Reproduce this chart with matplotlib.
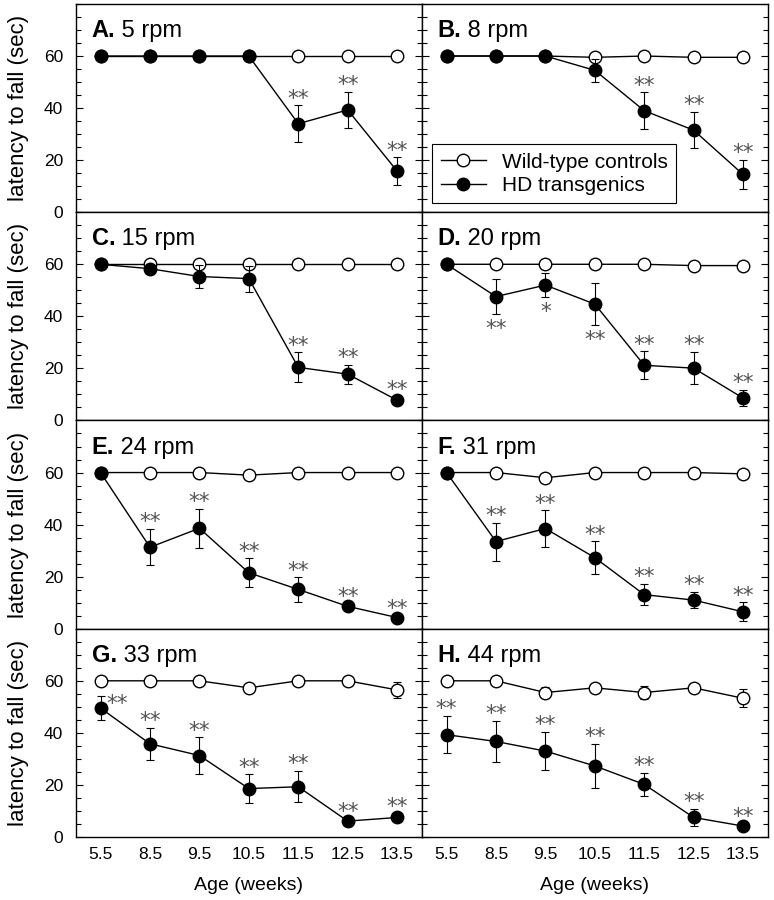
import matplotlib
matplotlib.use('Agg')
import matplotlib.pyplot as plt
from matplotlib.ticker import FixedLocator, MultipleLocator
import numpy as np

plt.rcParams['font.family'] = ['Liberation Sans', 'DejaVu Sans']

# Age groups (categorical x axis)
ages = ['5.5', '8.5', '9.5', '10.5', '11.5', '12.5', '13.5']

# Panel letters and rotarod speeds
letters = ['A.', 'B.', 'C.', 'D.', 'E.', 'F.', 'G.', 'H.']
speeds = ['5 rpm', '8 rpm', '15 rpm', '20 rpm', '24 rpm', '31 rpm', '33 rpm', '44 rpm']

# Wild-type controls: mean latency (sec) and SEM, one list per panel
wt_mean = [
    [60, 60, 60, 60, 60, 60, 60],
    [60, 60, 60, 59.5, 60, 59.5, 59.5],
    [60, 60, 60, 60, 60, 60, 60],
    [60, 60, 60, 60, 60, 59.5, 59.5],
    [60, 60, 60, 59, 60, 60, 60],
    [60, 60, 58, 60, 60, 60, 59.5],
    [60, 60, 60, 57.3, 60, 60, 56.5],
    [60, 60, 55.5, 57.3, 55.5, 57.3, 53.3],
]
wt_err = [
    [0, 0, 0, 0, 0, 0, 0],
    [0, 0, 0, 1.5, 0, 0, 0],
    [0, 0, 0, 0, 0, 0, 0],
    [0, 0, 0, 0, 0, 0, 0],
    [0, 0, 0, 0, 0, 0, 0],
    [0, 0, 1, 0, 0, 0, 0],
    [0, 0, 0, 1, 0, 0, 3],
    [0, 0, 2, 0, 2.5, 0, 3.5],
]

# HD transgenics: mean latency (sec) and SEM
hd_mean = [
    [60, 60, 60, 60, 34, 39.3, 15.8],
    [60, 60, 60, 54.5, 39, 31.5, 14.5],
    [60, 58.3, 55.3, 54.5, 20.4, 17.8, 7.8],
    [60, 47.6, 52, 44.7, 21.2, 20.1, 8.6],
    [60, 31.3, 38.6, 21.5, 15.1, 8.6, 4.3],
    [60, 33.5, 38.5, 27.3, 13.1, 11, 6.5],
    [49.5, 35.8, 31.3, 18.6, 19.3, 6.1, 7.5],
    [39.3, 36.7, 33, 27.3, 20.2, 7.5, 4.2],
]
hd_err = [
    [0, 0, 0, 0, 7, 7, 5.3],
    [0, 0, 0, 4.5, 7, 7, 5.5],
    [0, 0.5, 4.6, 5, 5.8, 3.6, 1.2],
    [0, 6.6, 4.6, 8, 5.4, 6.2, 3.2],
    [0, 7, 7.4, 5.5, 4.7, 1, 0.8],
    [0, 7.3, 7, 6.3, 4.1, 3.2, 3.6],
    [4.6, 6.2, 7, 5.5, 6, 1, 1.5],
    [7.2, 7.9, 7.4, 8.4, 4.5, 3.2, 0.8],
]

# significance marks for HD vs wild-type
stars = [
    ['', '', '', '', '**', '**', '**'],
    ['', '', '', '', '**', '**', '**'],
    ['', '', '', '', '**', '**', '**'],
    ['', '**', '*', '**', '**', '**', '**'],
    ['', '**', '**', '**', '**', '**', '**'],
    ['', '**', '**', '**', '**', '**', '**'],
    ['**', '**', '**', '**', '**', '**', '**'],
    ['**', '**', '**', '**', '**', '**', '**'],
]

# where a star sits if not above the error bar
star_place = {(3, 1): 'below', (3, 2): 'below', (3, 3): 'below', (6, 0): 'right'}
star_offsets = {'above': (0, 0.5), 'below': (0, -15), 'right': (12, -10)}

x = np.arange(len(ages))

fig, axes = plt.subplots(4, 2, figsize=(7.74, 9), dpi=100, sharex=True, sharey=True)
fig.subplots_adjust(left=0.098, right=0.992, top=0.9956, bottom=0.07,
                    wspace=0, hspace=0)

for i, ax in enumerate(axes.flat):
    wm = np.array(wt_mean[i], dtype=float)
    we = np.array(wt_err[i], dtype=float)
    hm = np.array(hd_mean[i], dtype=float)
    he = np.array(hd_err[i], dtype=float)

    # error bars first so the markers sit on top
    ax.errorbar(x[we > 0], wm[we > 0], yerr=we[we > 0], fmt='none',
                ecolor='black', elinewidth=0.8, capsize=3, capthick=0.8, zorder=2)
    wt_line, = ax.plot(x, wm, '-o', color='black', lw=1, mfc='white', mec='black',
                       mew=1, ms=9, zorder=3, label='Wild-type controls')
    ax.errorbar(x[he > 0], hm[he > 0], yerr=he[he > 0], fmt='none',
                ecolor='black', elinewidth=0.8, capsize=3, capthick=0.8, zorder=4)
    hd_line, = ax.plot(x, hm, '-o', color='black', lw=1, mfc='black', mec='black',
                       ms=9, zorder=5, label='HD transgenics')

    for j, s in enumerate(stars[i]):
        if not s:
            continue
        place = star_place.get((i, j), 'above')
        y = hm[j] - he[j] if place == 'below' else hm[j] + he[j]
        ax.annotate(s, xy=(x[j], y), xytext=star_offsets[place],
                    textcoords='offset points', ha='center', va='baseline',
                    fontsize=15.5, color='#555555', family='DejaVu Sans')

    # panel title: bold letter + speed
    t = ax.text(0.046, 0.841, letters[i], transform=ax.transAxes, fontsize=17,
                fontweight='bold', va='baseline')
    ax.annotate(' ' + speeds[i], xy=(1, 0), xycoords=t, va='bottom', fontsize=17)

    ax.set_xlim(-0.5, 6.5)
    ax.set_ylim(0, 80)
    ax.set_xticks(x)
    ax.set_xticklabels(ages)
    ax.yaxis.set_major_locator(FixedLocator([0, 20, 40, 60]))
    ax.yaxis.set_minor_locator(MultipleLocator(5))
    ax.tick_params(axis='y', which='both', direction='in', left=True, right=True,
                   labelsize=12.5, pad=9)
    ax.tick_params(axis='y', which='major', length=5, width=0.8)
    ax.tick_params(axis='y', which='minor', length=3.5, width=0.8)
    ax.tick_params(axis='x', length=0, pad=7, labelsize=12.5)
    for sp in ax.spines.values():
        sp.set_linewidth(1)

    if i % 2 == 0:
        ax.set_ylabel('latency to fall (sec)', fontsize=16, labelpad=11)
    if i >= 6:
        ax.set_xlabel('Age (weeks)', fontsize=14, labelpad=11)

    if i == 1:
        leg = ax.legend(handles=[wt_line, hd_line], loc='lower left',
                        bbox_to_anchor=(0.03, 0.043), fontsize=15, frameon=True,
                        fancybox=False, framealpha=1, edgecolor='black',
                        handlelength=2.2, handletextpad=0.75, labelspacing=0.2,
                        borderpad=0.4, borderaxespad=0)
        leg.get_frame().set_linewidth(0.8)

fig.savefig('out.png', dpi=100)
